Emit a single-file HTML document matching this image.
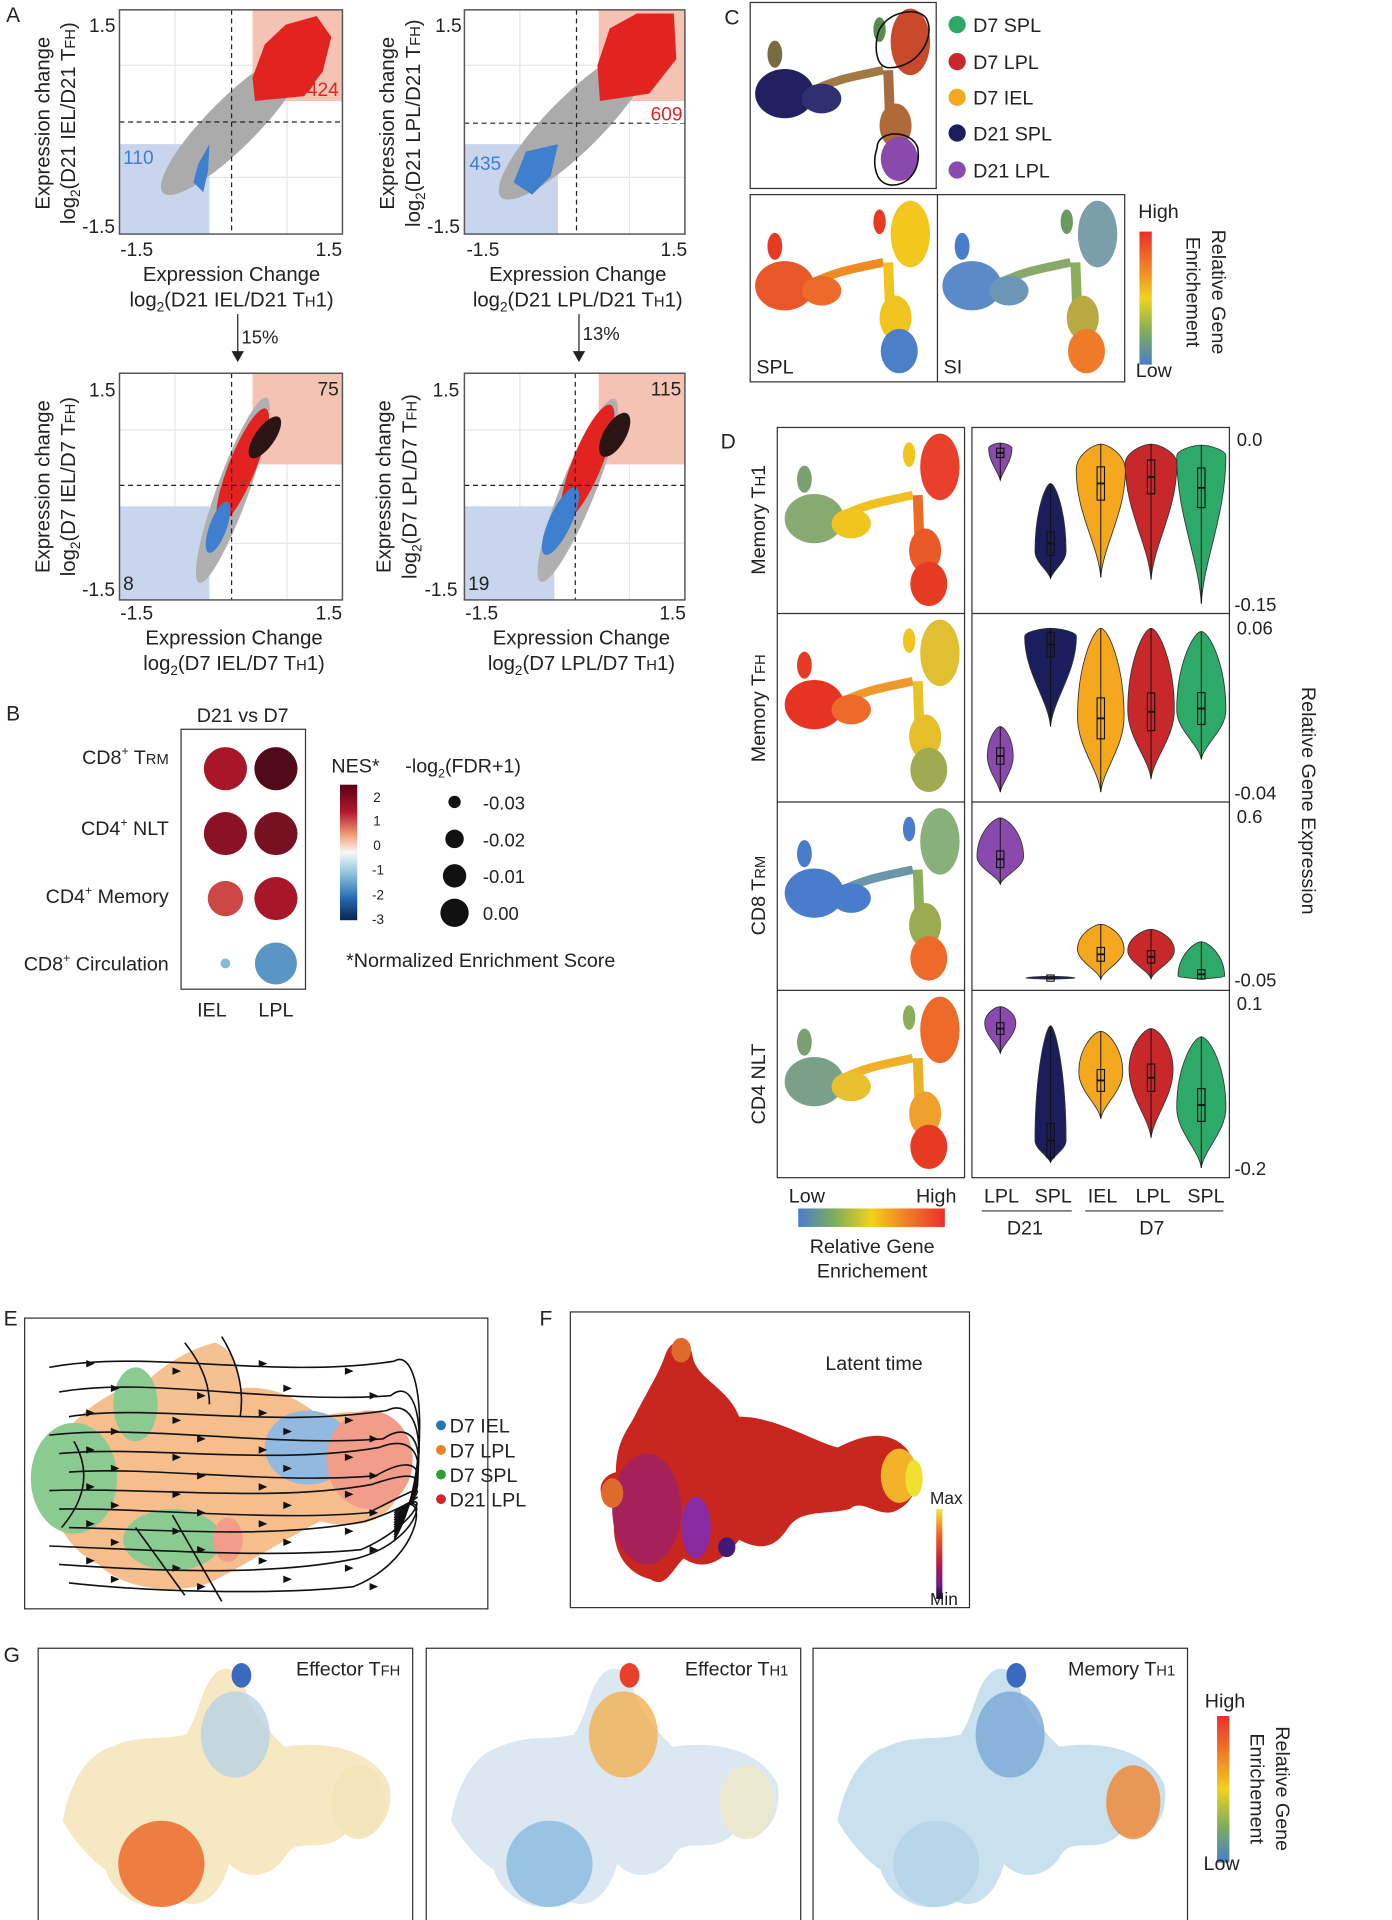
<!DOCTYPE html>
<html><head><meta charset="utf-8"><style>
html,body{margin:0;padding:0;background:#fff;width:1392px;height:1920px;overflow:hidden}
svg{display:block;font-family:"Liberation Sans",Arial,sans-serif}
text{fill:#222}
</style></head><body>
<svg id="fig" width="1392" height="1920" viewBox="0 0 1130 1558.6" preserveAspectRatio="none" xmlns="http://www.w3.org/2000/svg">
<defs>
<linearGradient id="gEnrV" x1="0" y1="0" x2="0" y2="1"><stop offset="0" stop-color="#e8302a"/><stop offset="0.3" stop-color="#f28a25"/><stop offset="0.5" stop-color="#f2d21c"/><stop offset="0.75" stop-color="#7fae5a"/><stop offset="1" stop-color="#4a7ccc"/></linearGradient>
<linearGradient id="gEnrH" x1="0" y1="0" x2="1" y2="0"><stop offset="0" stop-color="#4a7ccc"/><stop offset="0.25" stop-color="#7fae5a"/><stop offset="0.5" stop-color="#f2d21c"/><stop offset="0.7" stop-color="#f28a25"/><stop offset="1" stop-color="#e8302a"/></linearGradient>
<linearGradient id="gNes" x1="0" y1="0" x2="0" y2="1"><stop offset="0" stop-color="#5a0018"/><stop offset="0.2" stop-color="#b2182b"/><stop offset="0.38" stop-color="#f4a582"/><stop offset="0.5" stop-color="#f7f7f7"/><stop offset="0.65" stop-color="#92c5de"/><stop offset="0.85" stop-color="#2166ac"/><stop offset="1" stop-color="#0b2550"/></linearGradient>
<linearGradient id="gLat" x1="0" y1="0" x2="0" y2="1"><stop offset="0" stop-color="#f7e838"/><stop offset="0.3" stop-color="#e8602a"/><stop offset="0.6" stop-color="#b81c3a"/><stop offset="0.85" stop-color="#6a1a9a"/><stop offset="1" stop-color="#100828"/></linearGradient>
</defs>

<!-- ================= PANEL A ================= -->
<g font-size="15.5">
<text x="5" y="18" font-size="17">A</text>
<g transform="translate(97,8)">
 <rect width="181" height="182" fill="#fff"/>
 <g stroke="#e6e6e6" stroke-width="1"><line x1="45" y1="0" x2="45" y2="182"/><line x1="136" y1="0" x2="136" y2="182"/><line x1="0" y1="45" x2="181" y2="45"/><line x1="0" y1="136" x2="181" y2="136"/></g>
 <rect x="108" y="0" width="73" height="74" fill="#f5c3b4"/>
 <rect x="0" y="109" width="73" height="73" fill="#c9d5ec"/>
 <ellipse cx="92" cy="92" rx="80" ry="20" transform="rotate(-45 92 92)" fill="#ababab"/>
 <path d="M110,74 L108,55 L118,28 L135,12 L160,5 L172,22 L165,50 L150,70 Z" fill="#e3231f"/>
 <path d="M73,109 L64,125 L60,140 L68,148 L72,130 Z" fill="#3f7fcf"/>
 <line x1="91" y1="0" x2="91" y2="182" stroke="#222" stroke-dasharray="4,3"/>
 <line x1="0" y1="91" x2="181" y2="91" stroke="#222" stroke-dasharray="4,3"/>
 <rect width="181" height="182" fill="none" stroke="#555" stroke-width="1.2"/>
 <text x="178" y="70" text-anchor="end" style="fill:#e3231f">424</text>
 <text x="3" y="125" style="fill:#3f7fcf">110</text>
</g>
<g transform="translate(377,8)">
 <rect width="179" height="182" fill="#fff"/>
 <g stroke="#e6e6e6" stroke-width="1"><line x1="45" y1="0" x2="45" y2="182"/><line x1="134" y1="0" x2="134" y2="182"/><line x1="0" y1="45" x2="179" y2="45"/><line x1="0" y1="136" x2="179" y2="136"/></g>
 <rect x="109" y="0" width="70" height="74" fill="#f5c3b4"/>
 <rect x="0" y="109" width="76" height="73" fill="#c9d5ec"/>
 <ellipse cx="90" cy="92" rx="85" ry="22" transform="rotate(-45 90 92)" fill="#ababab"/>
 <path d="M110,74 L108,45 L118,15 L140,3 L170,3 L172,40 L150,68 Z" fill="#e3231f"/>
 <path d="M76,109 L50,115 L40,140 L55,150 L70,135 Z" fill="#3f7fcf"/>
 <line x1="91" y1="0" x2="91" y2="182" stroke="#222" stroke-dasharray="4,3"/>
 <line x1="0" y1="92" x2="179" y2="92" stroke="#222" stroke-dasharray="4,3"/>
 <rect width="179" height="182" fill="none" stroke="#555" stroke-width="1.2"/>
 <rect x="150" y="76" width="28" height="16" fill="#fff"/>
 <text x="177" y="90" text-anchor="end" style="fill:#e3231f">609</text>
 <text x="4" y="130" style="fill:#3f7fcf">435</text>
</g>
<g transform="translate(97,303)">
 <g stroke="#e6e6e6" stroke-width="1"><line x1="45" y1="0" x2="45" y2="184"/><line x1="136" y1="0" x2="136" y2="184"/><line x1="0" y1="46" x2="181" y2="46"/><line x1="0" y1="138" x2="181" y2="138"/></g>
 <rect x="108" y="0" width="73" height="74" fill="#f5c3b4"/>
 <rect x="0" y="108" width="73" height="76" fill="#c9d5ec"/>
 <ellipse cx="92" cy="95" rx="80" ry="13" transform="rotate(-70 92 95)" fill="#b0b0b0"/>
 <ellipse cx="100" cy="75" rx="50" ry="11" transform="rotate(-68 100 75)" fill="#e3231f"/>
 <ellipse cx="80" cy="125" rx="22" ry="7" transform="rotate(-70 80 125)" fill="#3f7fcf"/>
 <ellipse cx="118" cy="52" rx="20" ry="8" transform="rotate(-55 118 52)" fill="#2a1414"/>
 <line x1="91" y1="0" x2="91" y2="184" stroke="#222" stroke-dasharray="4,3"/>
 <line x1="0" y1="91" x2="181" y2="91" stroke="#222" stroke-dasharray="4,3"/>
 <rect width="181" height="184" fill="none" stroke="#555" stroke-width="1.2"/>
 <text x="178" y="18" text-anchor="end">75</text>
 <text x="3" y="176">8</text>
</g>
<g transform="translate(377,303)">
 <g stroke="#e6e6e6" stroke-width="1"><line x1="45" y1="0" x2="45" y2="184"/><line x1="134" y1="0" x2="134" y2="184"/><line x1="0" y1="46" x2="179" y2="46"/><line x1="0" y1="138" x2="179" y2="138"/></g>
 <rect x="109" y="0" width="70" height="74" fill="#f5c3b4"/>
 <rect x="0" y="108" width="73" height="76" fill="#c9d5ec"/>
 <ellipse cx="92" cy="95" rx="80" ry="14" transform="rotate(-68 92 95)" fill="#b0b0b0"/>
 <ellipse cx="100" cy="72" rx="50" ry="12" transform="rotate(-68 100 72)" fill="#e3231f"/>
 <ellipse cx="78" cy="120" rx="30" ry="9" transform="rotate(-65 78 120)" fill="#3f7fcf"/>
 <ellipse cx="122" cy="50" rx="20" ry="9" transform="rotate(-60 122 50)" fill="#2a1414"/>
 <line x1="90" y1="0" x2="90" y2="184" stroke="#222" stroke-dasharray="4,3"/>
 <line x1="0" y1="91" x2="179" y2="91" stroke="#222" stroke-dasharray="4,3"/>
 <rect width="179" height="184" fill="none" stroke="#555" stroke-width="1.2"/>
 <text x="176" y="18" text-anchor="end">115</text>
 <text x="3" y="176">19</text>
</g>
<g text-anchor="middle">
 <text x="83" y="26">1.5</text><text x="80" y="189">-1.5</text>
 <text x="111" y="208">-1.5</text><text x="267" y="208">1.5</text>
 <text x="364" y="26">1.5</text><text x="360" y="189">-1.5</text>
 <text x="392" y="208">-1.5</text><text x="547" y="208">1.5</text>
 <text x="83" y="322">1.5</text><text x="80" y="484">-1.5</text>
 <text x="111" y="503">-1.5</text><text x="267" y="503">1.5</text>
 <text x="362" y="322">1.5</text><text x="358" y="484">-1.5</text>
 <text x="391" y="503">-1.5</text><text x="546" y="503">1.5</text>
</g>
<g text-anchor="middle" font-size="16.5">
 <text x="188" y="228">Expression Change</text>
 <text x="188" y="249">log<tspan font-size="11" dy="4">2</tspan><tspan dy="-4">(D21 IEL/D21 T</tspan><tspan font-size="12">H</tspan>1)</text>
 <text x="469" y="228">Expression Change</text>
 <text x="469" y="249">log<tspan font-size="11" dy="4">2</tspan><tspan dy="-4">(D21 LPL/D21 T</tspan><tspan font-size="12">H</tspan>1)</text>
 <text x="190" y="523">Expression Change</text>
 <text x="190" y="544">log<tspan font-size="11" dy="4">2</tspan><tspan dy="-4">(D7 IEL/D7 T</tspan><tspan font-size="12">H</tspan>1)</text>
 <text x="472" y="523">Expression Change</text>
 <text x="472" y="544">log<tspan font-size="11" dy="4">2</tspan><tspan dy="-4">(D7 LPL/D7 T</tspan><tspan font-size="12">H</tspan>1)</text>
 <text transform="translate(40,100) rotate(-90)">Expression change</text>
 <text transform="translate(61,100) rotate(-90)">log<tspan font-size="11" dy="4">2</tspan><tspan dy="-4">(D21 IEL/D21 T</tspan><tspan font-size="12">FH</tspan>)</text>
 <text transform="translate(320,100) rotate(-90)">Expression change</text>
 <text transform="translate(341,100) rotate(-90)">log<tspan font-size="11" dy="4">2</tspan><tspan dy="-4">(D21 LPL/D21 T</tspan><tspan font-size="12">FH</tspan>)</text>
 <text transform="translate(40,395) rotate(-90)">Expression change</text>
 <text transform="translate(61,395) rotate(-90)">log<tspan font-size="11" dy="4">2</tspan><tspan dy="-4">(D7 IEL/D7 T</tspan><tspan font-size="12">FH</tspan>)</text>
 <text transform="translate(317,395) rotate(-90)">Expression change</text>
 <text transform="translate(338,395) rotate(-90)">log<tspan font-size="11" dy="4">2</tspan><tspan dy="-4">(D7 LPL/D7 T</tspan><tspan font-size="12">FH</tspan>)</text>
</g>
<g>
 <line x1="193" y1="255" x2="193" y2="286" stroke="#222"/><path d="M188,285 L198,285 L193,294 Z" fill="#222"/>
 <text x="196" y="279" font-size="15">15%</text>
 <line x1="470" y1="255" x2="470" y2="286" stroke="#222"/><path d="M465,285 L475,285 L470,294 Z" fill="#222"/>
 <text x="473" y="276" font-size="15">13%</text>
</g>
</g>

<!-- ================= PANEL B ================= -->
<g>
<text x="5" y="585" font-size="17">B</text>
<text x="197" y="586" font-size="16" text-anchor="middle">D21 vs D7</text>
<rect x="147" y="592" width="101" height="211" fill="none" stroke="#333"/>
<g id="dots"></g>
<g font-size="16" text-anchor="end">
 <text x="137" y="620">CD8<tspan font-size="10" dy="-7">+</tspan><tspan dy="7"> T</tspan><tspan font-size="12">RM</tspan></text>
 <text x="137" y="678">CD4<tspan font-size="10" dy="-7">+</tspan><tspan dy="7"> NLT</tspan></text>
 <text x="137" y="733">CD4<tspan font-size="10" dy="-7">+</tspan><tspan dy="7"> Memory</tspan></text>
 <text x="137" y="788">CD8<tspan font-size="10" dy="-7">+</tspan><tspan dy="7"> Circulation</tspan></text>
</g>
<text x="172" y="825" font-size="16" text-anchor="middle">IEL</text>
<text x="224" y="825" font-size="16" text-anchor="middle">LPL</text>
<text x="269" y="627" font-size="16">NES*</text>
<rect x="276" y="637" width="14" height="110" fill="url(#gNes)"/>
<g font-size="11"><text x="303" y="651">2</text><text x="303" y="670">1</text><text x="303" y="690">0</text><text x="302" y="710">-1</text><text x="302" y="730">-2</text><text x="302" y="750">-3</text></g>
<text x="329" y="627" font-size="16">-log<tspan font-size="10" dy="4">2</tspan><tspan dy="-4">(FDR+1)</tspan></text>
<g font-size="15">
 <circle cx="369" cy="651" r="5" fill="#111"/><text x="392" y="657">-0.03</text>
 <circle cx="369" cy="681" r="7.5" fill="#111"/><text x="392" y="687">-0.02</text>
 <circle cx="369" cy="711" r="9.5" fill="#111"/><text x="392" y="717">-0.01</text>
 <circle cx="369" cy="741" r="11.5" fill="#111"/><text x="392" y="747">0.00</text>
</g>
<text x="281" y="785" font-size="16">*Normalized Enrichment Score</text>
</g>

<!-- ================= PANEL C ================= -->
<g>
<text x="588" y="20" font-size="17">C</text>
<rect x="609" y="2" width="151" height="151" fill="#fff" stroke="#333"/>
<g id="umapC"></g>
<path d="M712,30 C715,10 745,4 752,15 C760,30 745,55 722,55 C712,55 710,42 712,30 Z" fill="none" stroke="#111" stroke-width="1.3"/>
<path d="M712,120 C712,105 740,105 745,120 C748,140 735,152 722,150 C710,148 708,132 712,120 Z" fill="none" stroke="#111" stroke-width="1.3"/>
<g font-size="16">
 <circle cx="777" cy="20" r="7" fill="#2eaa68"/><text x="790" y="26">D7 SPL</text>
 <circle cx="777" cy="50" r="7" fill="#c9282a"/><text x="790" y="56">D7 LPL</text>
 <circle cx="777" cy="79" r="7" fill="#f5a81e"/><text x="790" y="85">D7 IEL</text>
 <circle cx="777" cy="108" r="7" fill="#1b1d5c"/><text x="790" y="114">D21 SPL</text>
 <circle cx="777" cy="138" r="7" fill="#8a4aad"/><text x="790" y="144">D21 LPL</text>
</g>
<rect x="609" y="158" width="304" height="152" fill="none" stroke="#333"/>
<line x1="761" y1="158" x2="761" y2="310" stroke="#333"/>
<g id="umapSPL"></g><g id="umapSI"></g>
<text x="614" y="303" font-size="16">SPL</text>
<text x="766" y="303" font-size="16">SI</text>
<rect x="925" y="188" width="10" height="108" fill="url(#gEnrV)"/>
<text x="924" y="177" font-size="16">High</text>
<text x="922" y="306" font-size="16">Low</text>
<text transform="translate(984,237) rotate(90)" font-size="16" text-anchor="middle">Relative Gene</text>
<text transform="translate(963,237) rotate(90)" font-size="16" text-anchor="middle">Enrichement</text>
</g>

<!-- ================= PANEL D ================= -->
<g>
<text x="585" y="364" font-size="17">D</text>
<g fill="none" stroke="#333">
 <rect x="631" y="347" width="152" height="609"/>
 <line x1="631" y1="498" x2="783" y2="498"/><line x1="631" y1="651" x2="783" y2="651"/><line x1="631" y1="804" x2="783" y2="804"/>
 <rect x="789" y="347" width="209" height="609"/>
 <line x1="789" y1="498" x2="998" y2="498"/><line x1="789" y1="651" x2="998" y2="651"/><line x1="789" y1="804" x2="998" y2="804"/>
</g>
<g id="umapD"></g>
<g id="violins"></g>
<g font-size="16" text-anchor="middle">
 <text transform="translate(621,422) rotate(-90)">Memory T<tspan font-size="12">H</tspan>1</text>
 <text transform="translate(621,575) rotate(-90)">Memory T<tspan font-size="12">FH</tspan></text>
 <text transform="translate(621,727) rotate(-90)">CD8 T<tspan font-size="12">RM</tspan></text>
 <text transform="translate(621,880) rotate(-90)">CD4 NLT</text>
</g>
<g id="vaxis" font-size="15"></g>
<text transform="translate(1057,650) rotate(90)" font-size="16" text-anchor="middle">Relative Gene Expression</text>
<text x="655" y="976" font-size="16" text-anchor="middle">Low</text>
<text x="760" y="976" font-size="16" text-anchor="middle">High</text>
<rect x="648" y="981" width="119" height="15" fill="url(#gEnrH)"/>
<text x="708" y="1017" font-size="16" text-anchor="middle">Relative Gene</text>
<text x="708" y="1037" font-size="16" text-anchor="middle">Enrichement</text>
<g font-size="16" text-anchor="middle">
 <text x="813" y="976">LPL</text><text x="855" y="976">SPL</text><text x="895" y="976">IEL</text><text x="936" y="976">LPL</text><text x="979" y="976">SPL</text>
 <text x="832" y="1002">D21</text><text x="935" y="1002">D7</text>
</g>
<line x1="797" y1="983" x2="870" y2="983" stroke="#333"/><line x1="881" y1="983" x2="993" y2="983" stroke="#333"/>
</g>

<!-- ================= PANEL E ================= -->
<g>
<text x="3" y="1076" font-size="17">E</text>
<rect x="20" y="1070" width="376" height="236" fill="#fff" stroke="#333"/>
<g opacity="0.55">
 <path d="M55,1160 C90,1120 140,1110 170,1135 C200,1120 230,1125 260,1150 C300,1140 330,1150 330,1180 C330,1230 300,1245 260,1235 C230,1250 200,1270 170,1285 C140,1295 100,1290 80,1270 C40,1250 30,1200 55,1160 Z" fill="#f08a30"/>
 <path d="M100,1150 C110,1120 150,1095 175,1090 C200,1100 200,1140 180,1150 Z" fill="#f0903a"/>
 <ellipse cx="60" cy="1200" rx="35" ry="45" fill="#2ea13a"/>
 <ellipse cx="140" cy="1250" rx="40" ry="25" fill="#2ea13a"/>
 <ellipse cx="110" cy="1140" rx="18" ry="30" fill="#2ea13a"/>
 <ellipse cx="250" cy="1175" rx="35" ry="30" fill="#3a80c8"/>
 <ellipse cx="300" cy="1185" rx="35" ry="40" fill="#e84c2c"/>
 <ellipse cx="185" cy="1250" rx="12" ry="18" fill="#e84c2c"/>
</g>
<g id="streams" fill="none" stroke="#111" stroke-width="1.3"></g>
<g font-size="16">
 <circle cx="358" cy="1157" r="4" fill="#1f77b4"/><text x="365" y="1163">D7 IEL</text>
 <circle cx="358" cy="1177" r="4" fill="#f07f20"/><text x="365" y="1183">D7 LPL</text>
 <circle cx="358" cy="1197" r="4" fill="#2ca02c"/><text x="365" y="1203">D7 SPL</text>
 <circle cx="358" cy="1217" r="4" fill="#d62728"/><text x="365" y="1223">D21 LPL</text>
</g>
</g>

<!-- ================= PANEL F ================= -->
<g>
<text x="438" y="1076" font-size="17">F</text>
<rect x="463" y="1065" width="324" height="240" fill="#fff" stroke="#333"/>
<path d="M540,1100 C545,1085 560,1085 562,1100 C565,1120 590,1125 600,1150 C630,1150 660,1170 680,1175 C700,1165 720,1160 735,1175 C748,1190 748,1215 730,1225 C715,1235 700,1215 690,1225 C670,1230 650,1225 640,1240 C630,1255 620,1260 600,1250 C585,1270 570,1275 555,1265 C545,1275 540,1290 528,1282 C500,1275 495,1245 500,1225 C485,1220 482,1200 500,1195 C500,1170 510,1160 515,1150 C525,1130 535,1115 540,1100 Z" fill="#c8261e"/>
<ellipse cx="525" cy="1225" rx="28" ry="45" fill="#a6205a"/>
<ellipse cx="565" cy="1240" rx="12" ry="25" fill="#8a2aa0"/>
<ellipse cx="590" cy="1256" rx="7" ry="8" fill="#40187a"/>
<ellipse cx="730" cy="1198" rx="15" ry="22" fill="#f2b22a"/>
<ellipse cx="742" cy="1200" rx="7" ry="15" fill="#f2e030"/>
<ellipse cx="497" cy="1212" rx="9" ry="12" fill="#e06a2a"/>
<ellipse cx="553" cy="1096" rx="8" ry="10" fill="#e06a2a"/>
<text x="670" y="1112" font-size="16">Latent time</text>
<rect x="760" y="1225" width="5" height="73" fill="url(#gLat)"/>
<text x="755" y="1221" font-size="14">Max</text>
<text x="755" y="1303" font-size="14">Min</text>
</g>

<!-- ================= PANEL G ================= -->
<g>
<text x="3" y="1349" font-size="17">G</text>
<g id="gumaps"></g>
<rect x="988" y="1393" width="10" height="119" fill="url(#gEnrV)"/>
<text x="978" y="1386" font-size="16">High</text>
<text x="977" y="1518" font-size="16">Low</text>
<text transform="translate(1036,1452) rotate(90)" font-size="16" text-anchor="middle">Relative Gene</text>
<text transform="translate(1015,1452) rotate(90)" font-size="16" text-anchor="middle">Enrichement</text>
</g>
</svg>
<script>
var NS='http://www.w3.org/2000/svg';
function mk(tag,attrs,parent){var e=document.createElementNS(NS,tag);for(var k in attrs)e.setAttribute(k,attrs[k]);parent.appendChild(e);return e;}

/* ---------- Panel B data ---------- */
var pathways=["CD8+ TRM","CD4+ NLT","CD4+ Memory","CD8+ Circulation"];
var tissues=["IEL","LPL"];
var nesIEL=[2.1,2.4,1.5,-1.1];
var nesLPL=[3.0,2.6,2.1,-1.5];
var fdrIEL=[0.0,0.0,-0.007,-0.03];
var fdrLPL=[0.0,0.0,0.0,-0.001];
function xB(i){return 183+i*41;}
function yB(i){return 624+i*52.7;}
function rB(v){return 4+(v+0.03)/0.03*13.5;}
var nesStops=[[-3,[11,37,80]],[-2,[33,102,172]],[-1,[146,197,222]],[0,[247,247,247]],[1,[230,120,95]],[2,[178,24,43]],[3,[80,10,25]]];
function nesColor(v){for(var i=0;i<nesStops.length-1;i++){var a=nesStops[i],b=nesStops[i+1];if(v<=b[0]||i==nesStops.length-2){var t=Math.max(0,Math.min(1,(v-a[0])/(b[0]-a[0])));return 'rgb('+a[1].map(function(c,j){return Math.round(c+(b[1][j]-c)*t)}).join(',')+')';}}}
var dotsG=document.getElementById('dots');
[nesIEL,nesLPL].forEach(function(nes,ti){var fdr=ti?fdrLPL:fdrIEL;
 pathways.forEach(function(p,pi){var c=mk('circle',{cx:xB(ti),cy:yB(pi),r:rB(fdr[pi]),fill:nesColor(nes[pi])},dotsG);
 
 });});

/* ---------- UMAP helpers ---------- */
function umap(parent,ox,oy,cols){var g=mk('g',{transform:'translate('+ox+','+oy+')'},parent);
 
 
 mk('path',{d:'M50,72 C70,62 85,60 108,55',stroke:cols.band,'stroke-width':7,fill:'none'},g);
 mk('path',{d:'M112,55 L114,108',stroke:cols.stem,'stroke-width':8,fill:'none'},g);
 mk('ellipse',{cx:20,cy:42,rx:6,ry:11,fill:cols.tl},g);
 mk('ellipse',{cx:28,cy:74,rx:24,ry:20,fill:cols.left},g);
 mk('ellipse',{cx:58,cy:78,rx:16,ry:12,fill:cols.left2},g);
 mk('ellipse',{cx:105,cy:22,rx:5,ry:10,fill:cols.trs},g);
 mk('ellipse',{cx:130,cy:32,rx:16,ry:27,fill:cols.tr},g);
 mk('ellipse',{cx:118,cy:100,rx:13,ry:18,fill:cols.stem2},g);
 mk('ellipse',{cx:121,cy:127,rx:15,ry:18,fill:cols.bottom},g);
 return g;}
umap(document.getElementById('umapC'),609,2,{band:'#a07a40',stem:'#a86a40',tl:'#7a6a40',left:'#222060',left2:'#303070',trs:'#5a8a50',tr:'#c84a2a',stem2:'#b06a3a',bottom:'#8a4aad'});
umap(document.getElementById('umapSPL'),609,158,{band:'#f08a25',stem:'#f2c21e',tl:'#e63a22',left:'#e8562a',left2:'#ec6a2a',trs:'#e63a22',tr:'#f2c81e',stem2:'#f0c41e',bottom:'#4a80c8'});
umap(document.getElementById('umapSI'),761,158,{band:'#8aa86a',stem:'#8aae5a',tl:'#4a7ccc',left:'#5b8ac9',left2:'#6a96b8',trs:'#6a9a60',tr:'#7a9eaa',stem2:'#b8aa40',bottom:'#ee7a2a'});
var dU=document.getElementById('umapD');
umap(dU,633,347,{band:'#f0c020',stem:'#ee6a28',tl:'#7aa070',left:'#86aa72',left2:'#f2c41e',trs:'#f2c41e',tr:'#e8402a',stem2:'#ea5a28',bottom:'#e63a22'});
umap(dU,633,498,{band:'#ee9a2a',stem:'#e8c22a',tl:'#e63a22',left:'#e63322',left2:'#ee6a2a',trs:'#f2c41e',tr:'#e0c030',stem2:'#e6be2a',bottom:'#a0aa50'});
umap(dU,633,651,{band:'#6a96a8',stem:'#8aae5a',tl:'#4a7ccc',left:'#4a7ccc',left2:'#4a7ccc',trs:'#4a7ccc',tr:'#88b07a',stem2:'#9aaa50',bottom:'#ee6a2a'});
umap(dU,633,804,{band:'#f0b028',stem:'#e8b22a',tl:'#7aa070',left:'#7aa08a',left2:'#e8c030',trs:'#8aae5a',tr:'#ee6a28',stem2:'#eea02a',bottom:'#e63a22'});

/* ---------- Panel D violins ---------- */
var groups=["D21 LPL","D21 SPL","D7 IEL","D7 LPL","D7 SPL"];
var vColors=['#8a4aad','#1b1d5c','#f5a81e','#c9282a','#2eaa68'];
var rowNames=["Memory TH1","Memory TFH","CD8 TRM","CD4 NLT"];
var rowMax=[0.0,0.06,0.6,0.1];
var rowMin=[-0.15,-0.04,-0.05,-0.2];
var vTop=[[-0.003,-0.040,-0.004,-0.004,-0.005],[0.000,0.060,0.060,0.060,0.058],[0.595,-0.038,0.17,0.15,0.10],[0.095,0.06,0.05,0.055,0.04]];
var vBot=[[-0.037,-0.127,-0.126,-0.128,-0.150],[-0.040,0.000,-0.040,-0.032,-0.020],[0.330,-0.050,-0.05,-0.048,-0.05],[0.010,-0.19,-0.110,-0.145,-0.200]];
var vBulge=[[-0.008,-0.102,-0.028,-0.022,-0.015],[-0.018,0.055,0.006,0.010,0.010],[0.440,-0.045,0.070,0.065,-0.038],[0.065,-0.150,-0.025,-0.020,-0.090]];
var vMed=[[-0.012,-0.095,-0.040,-0.034,-0.044],[-0.018,0.050,0.005,0.009,0.011],[0.430,-0.045,0.050,0.040,-0.030],[0.055,-0.150,-0.040,-0.035,-0.085]];
var vWidth=[[0.45,0.6,0.95,1.0,0.95],[0.5,1.0,0.9,0.9,0.95],[0.9,0.95,0.9,0.9,0.9],[0.6,0.6,0.85,0.85,0.95]];
function xV(i){return 812+i*40.8;}
function yV(r,v){var top=[357,510,663,815][r],bot=[490,643,795,948][r];return top+(rowMax[r]-v)/(rowMax[r]-rowMin[r])*(bot-top);}
function wV(f){return f*42;}
var vg=document.getElementById('violins');
for(var r=0;r<4;r++){for(var i=0;i<5;i++){
 var cx=xV(i),t=yV(r,vTop[r][i]),b=yV(r,vBot[r][i]),m=yV(r,vBulge[r][i]),w=wV(vWidth[r][i])/2,md=yV(r,vMed[r][i]);
 var d='M'+cx+','+t+' C'+(cx+w*0.3)+','+t+' '+(cx+w)+','+(m-(m-t)*0.6)+' '+(cx+w)+','+m+' C'+(cx+w)+','+(m+(b-m)*0.4)+' '+(cx+2)+','+(b-(b-m)*0.3)+' '+cx+','+b+' C'+(cx-2)+','+(b-(b-m)*0.3)+' '+(cx-w)+','+(m+(b-m)*0.4)+' '+(cx-w)+','+m+' C'+(cx-w)+','+(m-(m-t)*0.6)+' '+(cx-w*0.3)+','+t+' '+cx+','+t+' Z';
 var p=mk('path',{d:d,fill:vColors[i],stroke:'#333','stroke-width':0.7},vg);
 
 
 mk('line',{x1:cx,y1:t,x2:cx,y2:b,stroke:'#111','stroke-width':0.8},vg);
 var bh=Math.max(5,Math.abs(b-t)*0.25);
 mk('rect',{x:cx-3,y:md-bh/2,width:6,height:bh,fill:'none',stroke:'#111','stroke-width':0.9},vg);
 mk('line',{x1:cx-3,y1:md,x2:cx+3,y2:md,stroke:'#111','stroke-width':1.5},vg);
}}
var vax=document.getElementById('vaxis');
var tickTop=["0.0","0.06","0.6","0.1"],tickBot=["-0.15","-0.04","-0.05","-0.2"];
for(var r=0;r<4;r++){
 var a=mk('text',{x:1004,y:yV(r,rowMax[r])+5},vax);a.textContent=tickTop[r];
 var bb=mk('text',{x:1002,y:yV(r,rowMin[r])+6},vax);bb.textContent=tickBot[r];
}

/* ---------- Panel E streams ---------- */
var st=document.getElementById('streams');
var sy=[1110,1130,1150,1165,1180,1195,1210,1225,1240,1255,1270,1285];
sy.forEach(function(y,k){var d='M'+(40+k%3*8)+','+y+' C'+(120)+','+(y-15+k*2)+' '+(220)+','+(y+10)+' '+(320-k*3)+','+(y-5+(k%2)*8)+' C'+(345)+','+(y-20)+' '+(350)+','+(1200)+' '+(320)+','+(1250-k*2);
 var p=mk('path',{d:d},st);
 
 
 for(var j=0;j<4;j++){var ax=70+j*70+k%2*20,ay=y+(j%2?3:-3);mk('path',{d:'M'+ax+','+(ay-3)+' L'+(ax+7)+','+ay+' L'+ax+','+(ay+3)+' Z',fill:'#111',stroke:'none'},st);}
});
[[150,1090,170,1140],[180,1085,195,1150],[60,1170,50,1240],[110,1240,150,1295],[140,1230,180,1300]].forEach(function(q){mk('path',{d:'M'+q[0]+','+q[1]+' Q'+(q[0]+20)+','+((q[1]+q[3])/2)+' '+q[2]+','+q[3]},st);});

/* ---------- Panel G umaps ---------- */
var gg=document.getElementById('gumaps');
var gx=[31,346,660],gTitles=['Effector T','Effector T','Memory T'],gSub=['FH','H1','H1'];
var gCols=[{body:'#f4e2b4',top:'#b8d2e6',low:'#ec6a2a',tip:'#3a6ac0',right:'#f2e4b8'},
 {body:'#d2e2ee',top:'#f2b050',low:'#8cbce0',tip:'#e8402a',right:'#ece8c8'},
 {body:'#bcd8ea',top:'#7aa8d6',low:'#b4d4e8',tip:'#3a6ac0',right:'#ee8a3a'}];
gx.forEach(function(x0,k){var g=mk('g',{transform:'translate('+x0+',1338)'},gg);
 
 
 mk('rect',{width:304,height:228,fill:'#fff',stroke:'#333'},g);
 var c=gCols[k];
 mk('path',{d:'M140,25 C150,10 165,15 170,40 C180,60 190,70 200,80 C230,75 270,80 285,110 C290,135 275,160 250,150 C230,170 210,150 200,170 C190,185 170,190 155,175 C150,195 135,215 115,205 C90,220 60,200 55,180 C40,170 25,150 20,140 C25,110 40,85 60,80 C80,70 100,75 120,70 C130,55 132,35 140,25 Z',fill:c.body,opacity:0.8},g);
 mk('ellipse',{cx:160,cy:70,rx:28,ry:35,fill:c.top,opacity:0.8},g);
 mk('ellipse',{cx:100,cy:175,rx:35,ry:35,fill:c.low,opacity:0.85},g);
 mk('ellipse',{cx:165,cy:22,rx:8,ry:10,fill:c.tip},g);
 mk('ellipse',{cx:260,cy:125,rx:22,ry:30,fill:c.right,opacity:0.85},g);
 var t=mk('text',{x:294,y:22,'text-anchor':'end','font-size':16},g);
 t.textContent=gTitles[k];
 var ts=mk('tspan',{'font-size':12},t);ts.textContent=gSub[k];
});
</script>
</body></html>
